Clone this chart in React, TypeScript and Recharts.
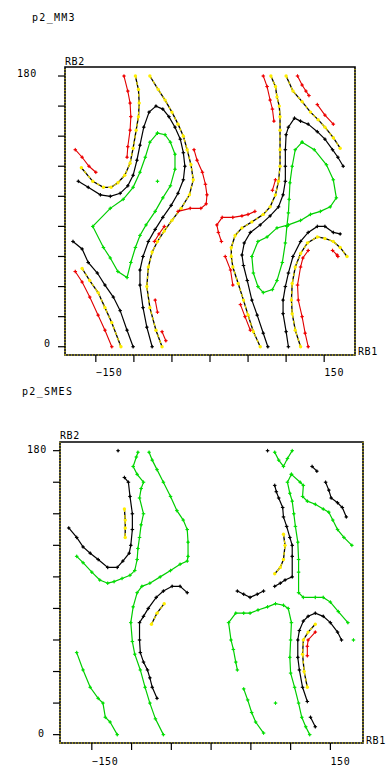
import React from 'react';
import { ScatterChart, Scatter, XAxis, YAxis, ReferenceArea, ReferenceLine } from 'recharts';

type P = [number, number];
type Kind = 'black' | 'yellow' | 'red' | 'green' | 'greenDot' | 'blackDot';

// ---------------- p2_MM3 (RB1, RB2 in degrees) ----------------
const mm3RedA: P[] = [[-113,180],[-108,170],[-105,162],[-104,153],[-105,144],[-108,133],[-109,126]];
const mm3YelA: P[] = [[-98,180],[-94,171],[-93,162],[-94,153],[-97,144],[-101,132],[-105,122],[-112,114],[-121,109],[-130,106],[-140,106],[-154,110],[-169,119]];
const mm3RedB: P[] = [[-177,131],[-168,126],[-159,120],[-150,116]];
const mm3BlkA: P[] = [[-173,110],[-160,106],[-144,101],[-131,100],[-118,102],[-108,107],[-101,114],[-96,124],[-92,134],[-87,146],[-80,156],[-71,160],[-62,158],[-54,153],[-46,146],[-39,138],[-35,129],[-33,120],[-35,111],[-42,102],[-51,94],[-62,86],[-72,78],[-81,70],[-88,60],[-92,51],[-92,41],[-88,26],[-83,13],[-76,0]];
const mm3GrnA: P[] = [[-69,142],[-79,136],[-85,126],[-92,116],[-101,106],[-114,98],[-131,92],[-154,80],[-140,66],[-131,59],[-121,50],[-109,46],[-104,56],[-98,66],[-92,74],[-84,81],[-72,90],[-62,99],[-52,107],[-46,118],[-46,128],[-52,136],[-59,141],[-69,142]];
const mm3GrnDot: P[] = [[-69,110]];
const mm3YelB: P[] = [[-79,180],[-68,171],[-59,164],[-50,156],[-42,148],[-35,140],[-30,131],[-25,121],[-22,111],[-27,101],[-38,92],[-50,84],[-60,77],[-69,70],[-76,63],[-81,53],[-83,40],[-79,26],[-71,11],[-63,0]];
const mm3RedC: P[] = [[-21,131],[-17,124],[-10,116],[-6,108],[-4,101],[-5,95],[-12,92],[-26,92],[-42,90]];
const mm3RedD: P[] = [[-60,80],[-67,75],[-73,70]];
const mm3RedE: P[] = [[-72,31],[-69,23]];
const mm3RedF: P[] = [[-63,10],[-58,4]];
const mm3BlkB: P[] = [[-180,70],[-168,65],[-160,56],[-148,49],[-138,41],[-127,33],[-118,24],[-109,11],[-101,0]];
const mm3YelC: P[] = [[-168,52],[-158,44],[-147,36],[-138,26],[-129,16],[-117,0]];
const mm3RedG: P[] = [[-177,50],[-168,43],[-158,33],[-147,21],[-138,11],[-129,0]];
const mm3RedH: P[] = [[70,180],[75,173],[79,164],[82,158],[84,150]];
const mm3YelD: P[] = [[80,180],[86,173],[88,166],[91,160],[92,153],[92,144],[92,131],[92,120],[90,110],[86,101],[79,93],[70,88],[55,83],[42,79],[33,74],[28,66],[28,60],[30,53],[37,42],[44,31],[50,21],[57,10],[66,0]];
const mm3BlkC: P[] = [[175,120],[168,126],[161,131],[151,138],[141,143],[129,148],[119,150],[111,152],[103,146],[100,141],[99,131],[99,120],[99,110],[96,101],[90,93],[79,87],[66,81],[53,76],[45,69],[42,61],[44,54],[49,44],[55,31],[62,21],[70,9],[76,0]];
const mm3YelE: P[] = [[100,180],[109,170],[121,163],[132,156],[142,151],[151,146],[162,139],[171,132]];
const mm3RedI: P[] = [[115,180],[121,174],[126,170],[130,167]];
const mm3RedJ: P[] = [[141,161],[151,154],[162,148]];
const mm3GrnB: P[] = [[121,136],[112,131],[108,120],[105,109],[104,98],[103,89],[101,80],[99,69],[95,56],[88,44],[82,38],[70,36],[63,40],[57,49],[55,60],[63,70],[75,73],[88,79],[103,81],[119,84],[132,88],[145,90],[158,93],[166,99],[162,111],[153,121],[137,131],[121,136]];
const mm3RedK: P[] = [[86,111],[82,104]];
const mm3RedL: P[] = [[59,90],[50,88],[42,87],[30,86],[16,86],[9,81],[11,76],[15,70]];
const mm3RedM: P[] = [[20,60],[27,51],[30,41]];
const mm3RedN: P[] = [[40,28],[46,20],[53,11]];
const mm3BlkD: P[] = [[103,0],[100,10],[96,22],[96,31],[99,40],[103,49],[109,60],[119,70],[129,76],[141,80],[151,80],[162,76],[171,75]];
const mm3YelF: P[] = [[119,0],[112,11],[108,22],[107,31],[108,42],[112,53],[119,62],[128,69],[141,73],[151,72],[162,70],[171,66],[180,60]];
const mm3RedO: P[] = [[129,0],[125,9],[121,20],[116,31],[115,41],[119,53],[122,59],[129,64]];
const mm3RedP: P[] = [[161,64],[167,61],[168,60]];

// ---------------- p2_SMES ----------------
const smesBlkDot1: P[] = [[-117,180]];
const smesGrnA: P[] = [[-92,179],[-94,176],[-98,170],[-93,165],[-85,160],[-88,156],[-90,150],[-85,140],[-88,133],[-90,125],[-92,118],[-93,111],[-96,104],[-102,101],[-112,99],[-122,97],[-130,96],[-140,98],[-150,103],[-161,109],[-169,113]];
const smesGrnB: P[] = [[-78,179],[-74,174],[-68,168],[-60,160],[-51,151],[-43,142],[-35,136],[-30,130],[-29,122],[-29,113],[-30,110],[-39,108],[-51,104],[-64,100],[-77,96],[-87,94],[-93,90],[-98,81],[-101,71],[-99,59],[-96,51],[-89,41],[-83,30],[-77,20],[-70,10],[-60,0]];
const smesGrnC: P[] = [[-169,52],[-161,41],[-152,30],[-142,23],[-136,20],[-133,11],[-127,8],[-118,0]];
const smesBlkA: P[] = [[-109,163],[-104,160],[-102,151],[-99,140],[-99,130],[-101,120],[-103,115],[-111,110],[-118,106],[-130,106],[-142,111],[-152,115],[-161,119],[-169,125],[-179,131]];
const smesYelA: P[] = [[-109,143],[-108,136],[-108,131],[-108,125]];
const smesBlkB: P[] = [[-30,90],[-39,94],[-49,94],[-60,91],[-69,87],[-79,80],[-85,75],[-90,71],[-90,60],[-89,52],[-85,46],[-80,41],[-77,36],[-74,30],[-68,23]];
const smesYelB: P[] = [[-75,70],[-68,77],[-59,83]];
const smesBlkDot2: P[] = [[71,180]];
const smesGrnV: P[] = [[80,179],[85,174],[91,170],[96,175],[102,180]];
const smesBlkC: P[] = [[127,170],[133,167]];
const smesBlkD: P[] = [[144,160],[148,155],[151,150],[159,147],[165,144],[170,138]];
const smesGrnD: P[] = [[101,165],[96,160],[99,153],[102,148],[104,140],[106,132],[109,122],[110,111],[110,103],[110,90],[116,87],[131,87],[141,87],[150,84],[160,78],[172,71]];
const smesGrnE: P[] = [[101,165],[112,160],[116,158],[115,151],[121,148],[131,146],[141,143],[148,141],[153,136],[159,130],[167,125],[177,120]];
const smesBlkE: P[] = [[80,158],[82,154],[85,150],[90,144],[91,138],[95,132],[99,125],[102,120],[102,113],[102,100],[93,98],[87,96],[80,94]];
const smesYelC: P[] = [[91,127],[93,120],[91,111],[87,106],[80,102]];
const smesBlkF: P[] = [[33,91],[41,89],[49,87],[58,89],[66,91]];
const smesGrnF: P[] = [[33,41],[31,46],[28,54],[25,60],[22,71],[31,77],[41,77],[49,77],[59,79],[71,81],[81,83],[91,82],[97,80],[101,71],[100,60],[99,49],[100,39],[105,30],[110,20],[114,11],[119,5],[124,0]];
const smesGrnDots: P[] = [[179,60],[81,20]];
const smesGrnG: P[] = [[41,29],[46,22],[51,14],[56,8],[66,1]];
const smesBlkG: P[] = [[121,21],[115,30],[111,41],[109,49],[109,60],[111,66],[116,72],[122,75],[131,77],[141,75],[150,71],[159,65],[164,60]];
const smesYelD: P[] = [[121,30],[117,40],[115,51],[116,60],[122,65],[131,70]];
const smesRedA: P[] = [[121,50],[121,56],[122,60],[131,65]];
const smesBlkH: P[] = [[125,11],[131,5]];

// axis ticks
const xTicks = [-150, -100, -50, 0, 50, 100, 150];
const yTicks = [0, 20, 40, 60, 80, 100, 120, 140, 160, 180];
const xLabelled = [-150, 150];
const yLabelled = [0, 180];

const mm3Lines: [Kind, P[]][] = [
  ['green', mm3GrnA], ['greenDot', mm3GrnDot], ['green', mm3GrnB],
  ['black', mm3BlkA], ['black', mm3BlkB], ['black', mm3BlkC], ['black', mm3BlkD],
  ['yellow', mm3YelA], ['yellow', mm3YelB], ['yellow', mm3YelC], ['yellow', mm3YelD], ['yellow', mm3YelE], ['yellow', mm3YelF],
  ['red', mm3RedA], ['red', mm3RedB], ['red', mm3RedC], ['red', mm3RedD], ['red', mm3RedE], ['red', mm3RedF], ['red', mm3RedG],
  ['red', mm3RedH], ['red', mm3RedI], ['red', mm3RedJ], ['red', mm3RedK], ['red', mm3RedL], ['red', mm3RedM], ['red', mm3RedN],
  ['red', mm3RedO], ['red', mm3RedP],
];

const smesLines: [Kind, P[]][] = [
  ['green', smesGrnA], ['green', smesGrnB], ['green', smesGrnC], ['green', smesGrnV], ['green', smesGrnD], ['green', smesGrnE],
  ['green', smesGrnF], ['green', smesGrnG], ['greenDot', smesGrnDots],
  ['blackDot', smesBlkDot1], ['blackDot', smesBlkDot2],
  ['black', smesBlkA], ['black', smesBlkB], ['black', smesBlkC], ['black', smesBlkD], ['black', smesBlkE], ['black', smesBlkF],
  ['black', smesBlkG], ['black', smesBlkH],
  ['yellow', smesYelA], ['yellow', smesYelB], ['yellow', smesYelC], ['yellow', smesYelD],
  ['red', smesRedA],
];

const FONT = '"DejaVu Sans Mono", monospace';

const dot = (color: string, r: number) => (props: any) => {
  const { cx, cy } = props;
  if (cx == null || cy == null) return <g />;
  return <circle cx={cx} cy={cy} r={r} fill={color} />;
};
const starDot = (color: string) => (props: any) => {
  const { cx, cy } = props;
  if (cx == null || cy == null) return <g />;
  return (
    <g>
      <path d={`M${cx - 1.8},${cy}h3.6M${cx},${cy - 1.8}v3.6`} stroke={color} strokeWidth={1} />
      <circle cx={cx} cy={cy} r={1} fill={color} />
    </g>
  );
};
const noDot = () => <g />;

const blackStar = starDot('#000');
const greenStar = starDot('#00e000');
const redStar = starDot('#f00000');
const yellowDot = dot('#ffee00', 1.7);

function seriesElements(lines: [Kind, P[]][], key: string) {
  const out: React.ReactElement[] = [];
  lines.forEach(([kind, pts], i) => {
    const data = pts.map(([x, y]) => ({ x, y }));
    const k = `${key}-${i}`;
    if (kind === 'greenDot') {
      out.push(<Scatter key={k} data={data} shape={greenStar} isAnimationActive={false} />);
    } else if (kind === 'blackDot') {
      out.push(<Scatter key={k} data={data} shape={blackStar} isAnimationActive={false} />);
    } else if (kind === 'green') {
      out.push(<Scatter key={k} data={data} line={{ stroke: '#00cc00', strokeWidth: 1.2 }} lineType="joint" shape={greenStar} isAnimationActive={false} />);
    } else if (kind === 'black') {
      out.push(<Scatter key={k} data={data} line={{ stroke: '#000', strokeWidth: 1.2 }} lineType="joint" shape={blackStar} isAnimationActive={false} />);
    } else if (kind === 'red') {
      out.push(<Scatter key={k} data={data} line={{ stroke: '#e00000', strokeWidth: 1.1 }} lineType="joint" shape={redStar} isAnimationActive={false} />);
    } else {
      out.push(<Scatter key={k + 'b'} data={data} line={{ stroke: '#000', strokeWidth: 1.3 }} lineType="joint" shape={noDot} isAnimationActive={false} />);
      out.push(<Scatter key={k + 'y'} data={data} line={{ stroke: '#e8d800', strokeWidth: 1.3, strokeDasharray: '3 3' }} lineType="joint" shape={yellowDot} isAnimationActive={false} />);
    }
  });
  return out;
}

const makeXTick = (dy: number) => (props: any) => {
  const { x, y, payload } = props;
  if (!xLabelled.includes(payload.value)) return <g />;
  return (
    <text x={x} y={y} dy={dy} textAnchor="start" fontSize={10} fill="#000" style={{ fontFamily: FONT, letterSpacing: 0.6 }}>
      {payload.value < 0 ? '\u2212' + Math.abs(payload.value) : String(payload.value)}
    </text>
  );
};

const makeYTick = (pos: Record<number, number>, dy: number) => (props: any) => {
  const { y, payload } = props;
  if (!yLabelled.includes(payload.value)) return <g />;
  return (
    <text x={pos[payload.value]} y={y} dy={dy} textAnchor="start" fontSize={10} fill="#000" style={{ fontFamily: FONT, letterSpacing: 0.6 }}>
      {String(payload.value)}
    </text>
  );
};

type PanelProps = {
  lines: [Kind, P[]][];
  name: string;
  height: number;
  margin: { top: number; right: number; bottom: number; left: number };
  xDomain: [number, number];
  yDomain: [number, number];
  xDy: number;
  yPos: Record<number, number>;
  yDy: number;
};

function Panel({ lines, name, height, margin, xDomain, yDomain, xDy, yPos, yDy }: PanelProps) {
  return (
    <ScatterChart width={387} height={height} margin={margin}>
      <XAxis
        type="number"
        dataKey="x"
        domain={xDomain}
        allowDataOverflow
        ticks={xTicks}
        height={20}
        axisLine={false}
        tickLine={{ stroke: '#000', strokeWidth: 1.2 }}
        tickSize={7}
        tickMargin={0}
        tick={makeXTick(xDy)}
        interval={0}
      />
      <YAxis
        type="number"
        dataKey="y"
        domain={yDomain}
        allowDataOverflow
        ticks={yTicks}
        width={40}
        axisLine={false}
        tickLine={{ stroke: '#000', strokeWidth: 1.2 }}
        tickSize={7}
        tickMargin={0}
        tick={makeYTick(yPos, yDy)}
        interval={0}
      />
      <ReferenceArea x1={xDomain[0]} x2={xDomain[1]} y1={yDomain[0]} y2={yDomain[1]} fill="none" stroke="#000" strokeWidth={1.6} ifOverflow="visible" />
      <ReferenceLine x={xDomain[0]} stroke="#e8d800" strokeWidth={1} strokeDasharray="1 2" ifOverflow="visible" />
      <ReferenceLine x={xDomain[1]} stroke="#e8d800" strokeWidth={1} strokeDasharray="1 2" ifOverflow="visible" />
      <ReferenceLine y={yDomain[0]} stroke="#e8d800" strokeWidth={1} strokeDasharray="1 2" ifOverflow="visible" />
      {seriesElements(lines, name)}
    </ScatterChart>
  );
}

const txt: React.CSSProperties = {
  position: 'absolute',
  fontFamily: FONT,
  fontSize: 10,
  lineHeight: '10px',
  color: '#000',
  letterSpacing: 0.6,
  whiteSpace: 'nowrap',
};

export default function App() {
  return (
    <div style={{ position: 'absolute', left: 0, top: 0, width: 387, height: 767, background: '#fff', overflow: 'hidden' }}>
      <div style={{ position: 'absolute', left: 0, top: 0 }}>
        <Panel
          lines={mm3Lines}
          name="mm3"
          height={385}
          margin={{ top: 67, right: 32, bottom: 10, left: 25 }}
          xDomain={[-190.5, 190.5]}
          yDomain={[-5.5, 186]}
          xDy={13.5}
          yPos={{ 180: 17, 0: 44 }}
          yDy={0.5}
        />
      </div>
      <div style={{ position: 'absolute', left: 0, top: 385 }}>
        <Panel
          lines={smesLines}
          name="smes"
          height={382}
          margin={{ top: 57, right: 24, bottom: 4, left: 20 }}
          xDomain={[-190, 191]}
          yDomain={[-5.3, 185.5]}
          xDy={15}
          yPos={{ 180: 27, 0: 38 }}
          yDy={2.5}
        />
      </div>
      <div style={{ ...txt, left: 32, top: 13, letterSpacing: 1.3 }}>p2_MM3</div>
      <div style={{ ...txt, left: 65, top: 57 }}>RB2</div>
      <div style={{ ...txt, left: 358, top: 347 }}>RB1</div>
      <div style={{ ...txt, left: 22, top: 387, letterSpacing: 1.3 }}>p2_SMES</div>
      <div style={{ ...txt, left: 60, top: 431 }}>RB2</div>
      <div style={{ ...txt, left: 366, top: 736 }}>RB1</div>
    </div>
  );
}
